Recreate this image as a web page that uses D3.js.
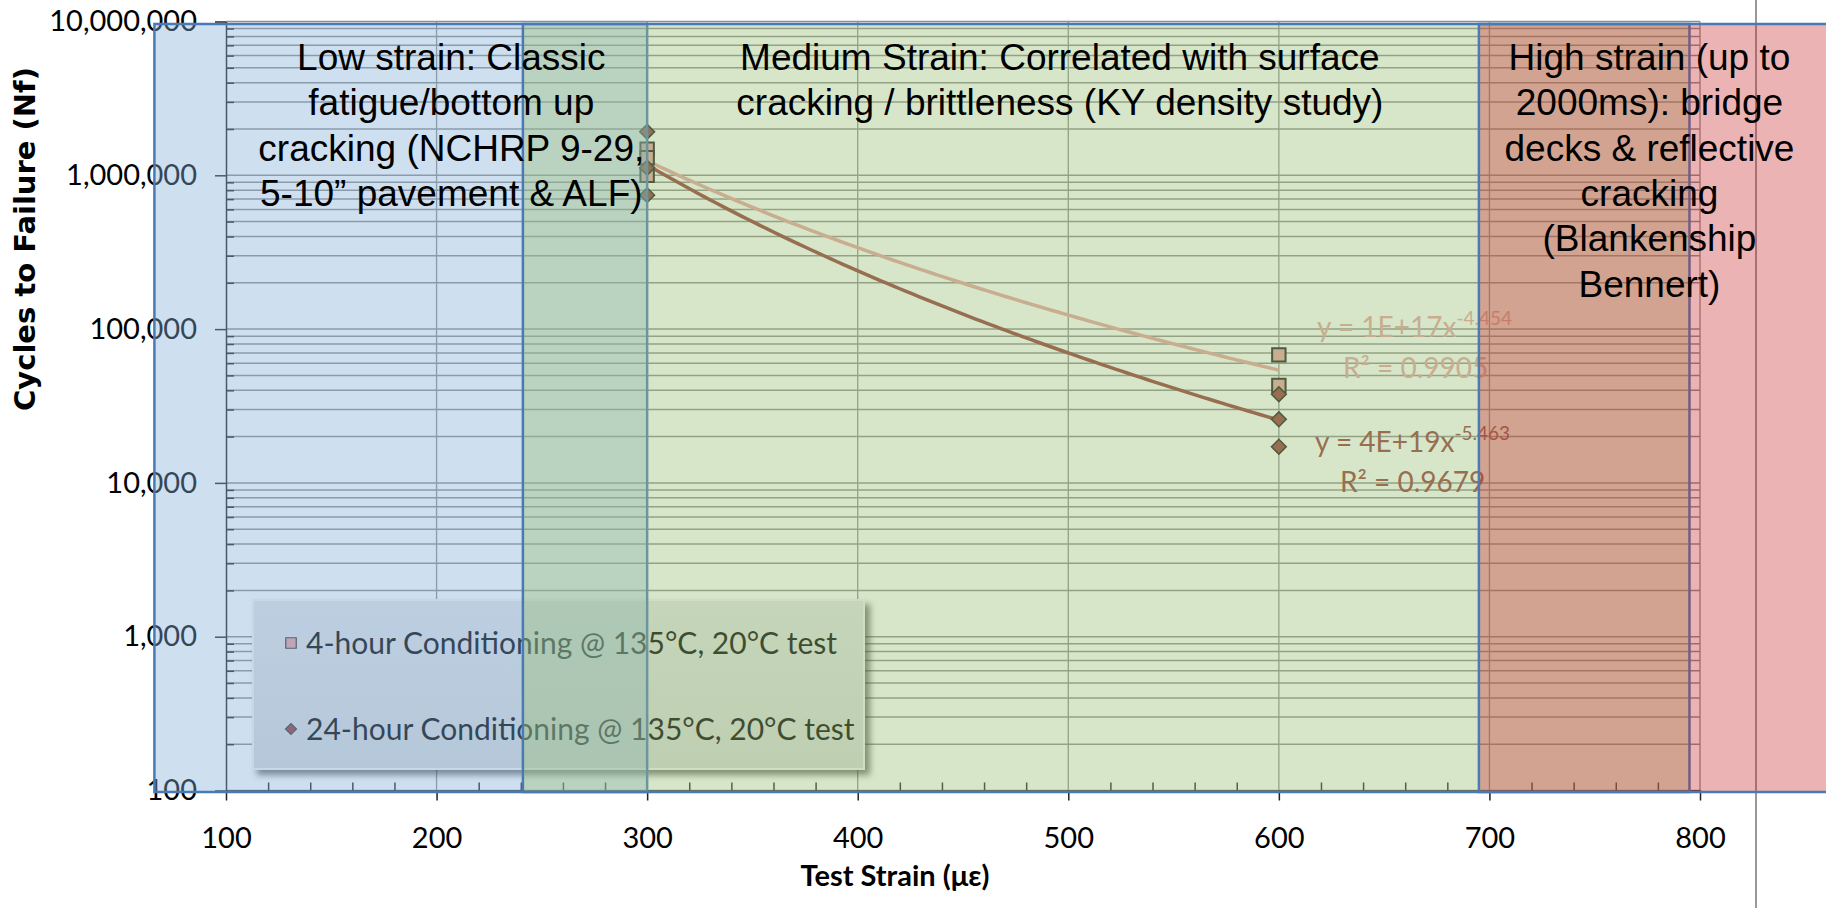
<!DOCTYPE html>
<html>
<head>
<meta charset="utf-8">
<script src="https://cdn.jsdelivr.net/npm/d3@7"></script>
<style>
  body { margin: 0; background: #fff; }
  svg { display: block; }
</style>
</head>
<body>
<svg id="chart" width="1826" height="908"></svg>
<script>
// values
const strain4h = [300, 300, 300, 600, 600];
const cycles4h = [1480000, 1300000, 1000000, 68000, 43000];
const strain24h = [300, 300, 300, 600, 600, 600];
const cycles24h = [1920000, 1120000, 743000, 37700, 25900, 17200];

const seriesNames = [
  "4-hour Conditioning @ 135°C, 20°C test",
  "24-hour Conditioning @ 135°C, 20°C test"
];
const fitEquations = ["y = 1E+17x", "y = 4E+19x"];
const fitExponents = ["-4.454", "-5.463"];
const fitR2 = ["R² = 0.9905", "R² = 0.9679"];

const xTicks = [100, 200, 300, 400, 500, 600, 700, 800];
const yTicks = [100, 1000, 10000, 100000, 1000000, 10000000];

// strain zones drawn as shaded boxes (in µε)
const zoneFrom = [66, 241, 695];
const zoneTo = [300, 795, 880];
const zoneLines = [
  ["Low strain: Classic", "fatigue/bottom up", "cracking (NCHRP 9-29,", "5-10\u201d pavement & ALF)"],
  ["Medium Strain: Correlated with surface", "cracking / brittleness (KY density study)"],
  ["High strain (up to", "2000ms): bridge", "decks & reflective", "cracking", "(Blankenship", "Bennert)"]
];

const svg = d3.select("#chart");

const x = d3.scaleLinear().domain([100, 800]).range([226, 1700]);
const y = d3.scaleLog().domain([100, 1e7]).range([790.5, 21.5]);

const color4h = "#e6a0a0";
const color24h = "#953735";

// gridlines
const yGrid = [];
yTicks.slice(0, -1).forEach(d => { for (let k = 1; k < 10; k++) yGrid.push(d * k); });
yGrid.push(1e7);

svg.append("g")
  .selectAll("line")
  .data(yGrid)
  .enter()
  .append("line")
  .attr("x1", x(100))
  .attr("x2", x(800))
  .attr("y1", d => y(d))
  .attr("y2", d => y(d))
  .attr("stroke", "#8e8e8e")
  .attr("stroke-width", 1.5);

svg.append("g")
  .selectAll("line")
  .data(xTicks.slice(1))
  .enter()
  .append("line")
  .attr("x1", d => x(d))
  .attr("x2", d => x(d))
  .attr("y1", y(1e7))
  .attr("y2", y(100))
  .attr("stroke", "#8e8e8e")
  .attr("stroke-width", 1.3);

// axes
const yAxis = svg.append("g")
  .attr("transform", `translate(${x(100)},0)`)
  .call(d3.axisLeft(y).tickValues(yTicks).tickFormat(d3.format(",")).tickSize(11).tickSizeOuter(0).tickPadding(18));

svg.append("g")
  .attr("transform", `translate(${x(100)},0)`)
  .call(d3.axisRight(y).tickValues(yGrid.filter(v => !yTicks.includes(v))).tickFormat("").tickSize(8).tickSizeOuter(0))
  .select(".domain").remove();

const xAxis = svg.append("g")
  .attr("transform", `translate(0,${y(100)})`)
  .call(d3.axisBottom(x).tickValues(xTicks).tickSize(10).tickSizeOuter(0));

svg.append("g")
  .attr("transform", `translate(0,${y(100)})`)
  .call(d3.axisTop(x).tickValues(d3.range(120, 800, 20).filter(v => v % 100 !== 0)).tickFormat("").tickSize(8).tickSizeOuter(0))
  .select(".domain").remove();

svg.selectAll(".tick line, .domain").attr("stroke", "#222").attr("stroke-width", 1.5);

yAxis.selectAll("text")
  .attr("font-family", "Lato, sans-serif")
  .attr("font-size", 29)
  .attr("fill", "#000");

xAxis.selectAll("text")
  .attr("y", 47)
  .attr("dy", "0.35em")
  .attr("font-family", "Lato, sans-serif")
  .attr("font-size", 29)
  .attr("fill", "#000");

svg.append("text")
  .attr("x", 895)
  .attr("y", 886)
  .attr("text-anchor", "middle")
  .attr("font-family", "Lato, sans-serif")
  .attr("font-weight", "bold")
  .attr("font-size", 29)
  .text("Test Strain (με)");

svg.append("text")
  .attr("transform", "translate(35,239) rotate(-90)")
  .attr("text-anchor", "middle")
  .attr("font-family", "DejaVu Sans, sans-serif")
  .attr("font-weight", "bold")
  .attr("font-size", 29)
  .text("Cycles to Failure (Nf)");

// power trendlines, least squares on log-log like Excel
function powerFit(xs, ys) {
  const lx = xs.map(Math.log), ly = ys.map(Math.log);
  const mx = d3.mean(lx), my = d3.mean(ly);
  const b = d3.sum(lx, (v, i) => (v - mx) * (ly[i] - my)) / d3.sum(lx, v => (v - mx) ** 2);
  const a = Math.exp(my - b * mx);
  return v => a * Math.pow(v, b);
}

const fit4h = powerFit(strain4h, cycles4h);
const fit24h = powerFit(strain24h, cycles24h);
const fitX = d3.range(300, 601, 3);

const line = f => d3.line().x(d => x(d)).y(d => y(f(d)))(fitX);

svg.append("path")
  .attr("d", line(fit4h))
  .attr("fill", "none")
  .attr("stroke", color4h)
  .attr("stroke-width", 3.5);

svg.append("path")
  .attr("d", line(fit24h))
  .attr("fill", "none")
  .attr("stroke", color24h)
  .attr("stroke-width", 3.5);

const square = d3.symbol().type(d3.symbolSquare).size(180);
const diamond = d3.symbol().type(d3.symbolSquare).size(110);

svg.append("g")
  .selectAll("path")
  .data(strain4h.map((s, i) => [s, cycles4h[i]]))
  .enter()
  .append("path")
  .attr("d", square)
  .attr("transform", d => `translate(${x(d[0])},${y(d[1])})`)
  .attr("fill", color4h)
  .attr("stroke", "#1a1a1a")
  .attr("stroke-width", 2);

svg.append("g")
  .selectAll("path")
  .data(strain24h.map((s, i) => [s, cycles24h[i]]))
  .enter()
  .append("path")
  .attr("d", diamond)
  .attr("transform", d => `translate(${x(d[0])},${y(d[1])}) rotate(45)`)
  .attr("fill", color24h)
  .attr("stroke", "#1a1a1a")
  .attr("stroke-width", 1.5);

// trendline labels
const fitLabelPos = [[1317, 337, 1343, 378], [1315, 452, 1340, 492]];
[color4h, color24h].forEach((c, i) => {
  const p = fitLabelPos[i];
  const t = svg.append("text")
    .attr("x", p[0]).attr("y", p[1])
    .attr("font-family", "Lato, sans-serif")
    .attr("font-size", 28)
    .attr("fill", c);
  t.append("tspan").text(fitEquations[i]);
  t.append("tspan").attr("dy", -12).attr("font-size", 19).text(fitExponents[i]);
  svg.append("text")
    .attr("x", p[2]).attr("y", p[3])
    .attr("font-family", "Lato, sans-serif")
    .attr("font-size", 28)
    .attr("fill", c)
    .text(fitR2[i]);
});

// legend
const defs = svg.append("defs");
defs.append("filter").attr("id", "shadow")
  .attr("x", "-5%").attr("y", "-10%").attr("width", "115%").attr("height", "130%")
  .append("feDropShadow")
  .attr("dx", 5).attr("dy", 5).attr("stdDeviation", 3)
  .attr("flood-color", "#000").attr("flood-opacity", 0.55);

const grad = defs.append("linearGradient").attr("id", "legendFill")
  .attr("x1", 0).attr("y1", 0).attr("x2", 0).attr("y2", 1);
grad.append("stop").attr("offset", 0).attr("stop-color", "#e2e4e6");
grad.append("stop").attr("offset", 1).attr("stop-color", "#d6d8d8");

const legend = svg.append("g").attr("transform", "translate(253,600)");
legend.append("rect")
  .attr("width", 611).attr("height", 169)
  .attr("fill", "url(#legendFill)")
  .attr("stroke", "#f2f2f2")
  .attr("stroke-width", 2)
  .attr("filter", "url(#shadow)");

const legendSymbols = [d3.symbol().type(d3.symbolSquare).size(110)(), d3.symbol().type(d3.symbolSquare).size(60)()];
const legendColors = [color4h, color24h];
seriesNames.forEach((name, i) => {
  const row = legend.append("g").attr("transform", `translate(0,${43 + i * 86})`);
  row.append("path")
    .attr("d", legendSymbols[i])
    .attr("transform", i ? "translate(38,0) rotate(45)" : "translate(38,0)")
    .attr("fill", legendColors[i])
    .attr("stroke", "#333")
    .attr("stroke-width", 1.2);
  row.append("text")
    .attr("x", 53)
    .attr("dy", "0.35em")
    .attr("font-family", "Lato, sans-serif")
    .attr("font-size", 30)
    .attr("fill", "#000")
    .text(name);
});

// stray vertical line at the right
svg.append("line")
  .attr("x1", 1756).attr("x2", 1756)
  .attr("y1", 0).attr("y2", 908)
  .attr("stroke", "#999")
  .attr("stroke-width", 2);

// translucent zone boxes on top
const zoneFill = ["#84afd9", "#9bc078", "#c62626"];
const zoneOpacity = [0.4, 0.4, 0.35];
const zoneTop = y(1e7) + 2.5;
const zoneBottom = y(100) + 1.5;

svg.append("g")
  .selectAll("rect")
  .data(zoneFrom)
  .enter()
  .append("rect")
  .attr("x", (d, i) => x(d))
  .attr("y", zoneTop)
  .attr("width", (d, i) => x(zoneTo[i]) - x(d))
  .attr("height", zoneBottom - zoneTop)
  .attr("fill", (d, i) => zoneFill[i])
  .attr("fill-opacity", (d, i) => zoneOpacity[i])
  .attr("stroke", "#4a7ab4")
  .attr("stroke-width", 2.5);

// zone captions
const captionAt = [207, 496, 776];
zoneLines.forEach((lines, i) => {
  svg.append("text")
    .attr("text-anchor", "middle")
    .attr("font-family", "Liberation Sans, Arial, sans-serif")
    .attr("font-size", 37)
    .attr("fill", "#000")
    .selectAll("tspan")
    .data(lines)
    .enter()
    .append("tspan")
    .attr("x", x(captionAt[i]))
    .attr("y", (d, j) => 70 + j * 45.3)
    .text(d => d);
});
</script>
</body>
</html>
